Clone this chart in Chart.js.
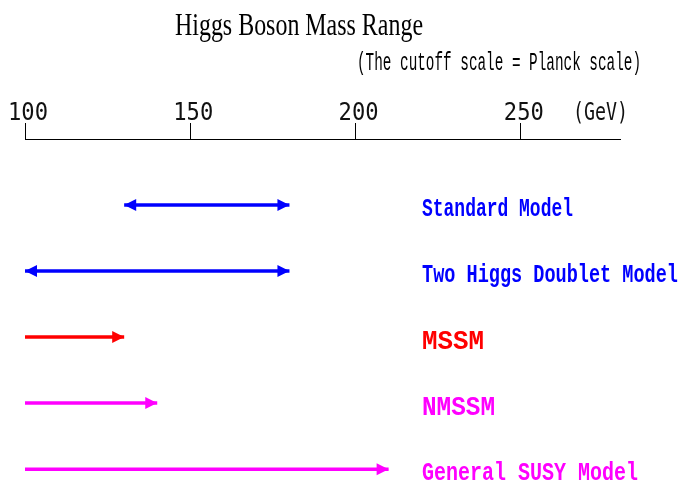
<!DOCTYPE html>
<html><head><meta charset="utf-8">
<script src="https://cdn.jsdelivr.net/npm/chart.js@4"></script>
<style>html,body{margin:0;padding:0;background:#fff}#wrap{width:679px;height:483px;position:relative}</style>
</head><body><div id="wrap"><canvas id="c" width="679" height="483"></canvas></div>
<script>
// ---- data ----
const models = ['Standard Model', 'Two Higgs Doublet Model', 'MSSM', 'NMSSM', 'General SUSY Model'];
const lowerBounds = [130, 100, 100, 100, 100];
const upperBounds = [180, 180, 130, 140, 210];
const lowerIsBounded = [true, true, false, false, false];
const tickValues = [100, 150, 200, 250];
const axisMin = 100;
const axisMax = 280;
const unitLabel = '(GeV)';
const titleText = 'Higgs Boson Mass Range';
const subtitleText = '(The cutoff scale = Planck scale)';

// ---- styles ----
const modelColors = ['#0000ff', '#0000ff', '#ff0000', '#ff00ff', '#ff00ff'];
const labelFontSizes = [25, 25, 28.5, 28, 26.5];
const labelWidths = [151, 256, 62, 73, 216];

function drawFitted(ctx, text, x, y, font, color, width, align) {
  ctx.save();
  ctx.font = font;
  const w = ctx.measureText(text).width;
  ctx.translate(x, y);
  ctx.scale(width / w, 1);
  ctx.textAlign = align || 'left';
  ctx.textBaseline = 'alphabetic';
  ctx.fillStyle = color;
  ctx.fillText(text, 0, 0);
  ctx.restore();
}
function arrowHead(ctx, x, y, dir, color) {
  const L = 12, H = 6;
  ctx.save();
  ctx.fillStyle = color;
  ctx.beginPath();
  ctx.moveTo(x, y);
  ctx.lineTo(x - dir * L, y - H);
  ctx.lineTo(x - dir * L, y + H);
  ctx.closePath();
  ctx.fill();
  ctx.restore();
}

const decor = {
  id: 'decor',
  afterDraw(chart) {
    const ctx = chart.ctx, xs = chart.scales.x, ys = chart.scales.y;
    const top = chart.chartArea.top;
    drawFitted(ctx, titleText, 175, 35, '32px "Liberation Serif"', '#000', 248, 'left');
    drawFitted(ctx, subtitleText, 357, 70, '25px "Liberation Mono"', '#000', 284, 'left');
    tickValues.forEach(v => {
      drawFitted(ctx, String(v), xs.getPixelForValue(v) + 3, top - 19, '24px "DejaVu Sans Mono"', '#111', 40, 'center');
    });
    drawFitted(ctx, unitLabel, 573, top - 19, '24px "DejaVu Sans Mono"', '#111', 55, 'left');
    models.forEach((m, i) => {
      const y = ys.getPixelForValue(i);
      arrowHead(ctx, xs.getPixelForValue(upperBounds[i]), y, 1, modelColors[i]);
      if (lowerIsBounded[i]) arrowHead(ctx, xs.getPixelForValue(lowerBounds[i]), y, -1, modelColors[i]);
      const s = labelFontSizes[i];
      drawFitted(ctx, m, 422, y + 3.5 + s * 0.29, 'bold ' + s + 'px "Liberation Mono"', modelColors[i], labelWidths[i], 'left');
    });
  }
};

new Chart(document.getElementById('c'), {
  type: 'line',
  data: {
    datasets: models.map((m, i) => ({
      label: m,
      data: [{ x: lowerBounds[i], y: i }, { x: upperBounds[i], y: i }],
      borderColor: modelColors[i],
      backgroundColor: modelColors[i],
      borderWidth: 3.5,
      pointRadius: 0,
      fill: false,
      tension: 0
    }))
  },
  options: {
    responsive: false,
    animation: false,
    layout: { padding: { left: 25, right: 59, top: 123, bottom: 0 } },
    plugins: { legend: { display: false }, tooltip: { enabled: false } },
    scales: {
      x: {
        type: 'linear', position: 'top', min: axisMin, max: axisMax,
        afterBuildTicks: s => { s.ticks = tickValues.map(v => ({ value: v })); },
        ticks: { display: false },
        grid: { drawOnChartArea: false, drawTicks: true, tickLength: 16, color: '#000', lineWidth: 1 },
        border: { display: true, color: '#000', width: 1 }
      },
      y: { type: 'linear', reverse: true, min: -1, max: 4.21, display: false }
    }
  },
  plugins: [decor]
});
</script></body></html>
